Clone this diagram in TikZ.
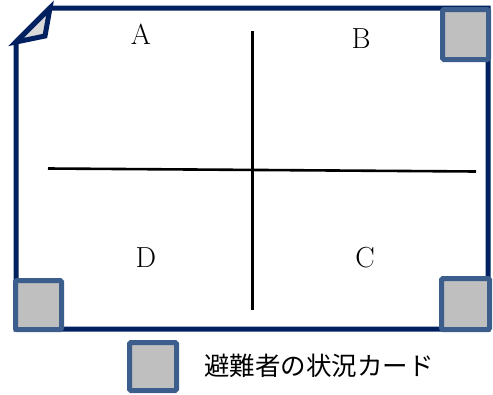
\documentclass[tikz,border=0pt]{standalone}
\usepackage{fontspec}
\newfontfamily\cjk{Noto Sans CJK JP}
\definecolor{navy}{RGB}{0,32,96}
\definecolor{cardedge}{RGB}{60,94,140}
\definecolor{cardfill}{RGB}{191,191,191}
\definecolor{foldfill}{RGB}{217,217,217}
\tikzset{
  frameline/.style={draw=navy,line width=5pt,line join=miter},
  card/.style={draw=cardedge,fill=cardfill,line width=5pt,rounded corners=1.5pt},
  crossline/.style={draw=black,line width=2.6pt},
  quad/.style={font=\fontsize{29}{29}\selectfont,inner sep=0pt}
}
\begin{document}
\begin{tikzpicture}[x=1pt,y=-1pt]
\useasboundingbox (0,0) rectangle (493,394);
% frame
\coordinate (f1) at (50,8);
\coordinate (f2) at (488,8);
\coordinate (f3) at (488,329);
\coordinate (f4) at (16,329);
\coordinate (f5) at (16,42);
\coordinate (fold) at (45,36);
\path[frameline,fill=white] (f1) -- (f2) -- (f3) -- (f4) -- (f5) -- cycle;
\path[frameline,fill=foldfill] (f1) -- (fold) -- (f5) -- cycle;
% cross
\coordinate (vt) at (252.5,31);
\coordinate (vb) at (252.5,310);
\coordinate (hl) at (48,168.5);
\coordinate (hr) at (476,171.5);
\draw[crossline] (vt) -- (vb);
\draw[crossline] (hl) -- (hr);
% labels
\node[quad] (A) at (141,34) {A};
\node[quad] (B) at (361,39) {B};
\node[quad] (D) at (146,258) {D};
\node[quad] (C) at (365,258) {C};
% cards
\draw[card] (442.5,9.5) rectangle (488.5,59.5);
\draw[card] (15.5,280.5) rectangle (61.5,329.5);
\draw[card] (441.5,278.5) rectangle (489.5,329.5);
\draw[card] (129.5,342.5) rectangle (176.5,390.5);
\node[anchor=west,inner sep=0pt,font=\cjk\fontsize{25.5}{25.5}\selectfont] (legend) at (204,366) {避難者の状況カード};
\end{tikzpicture}
\end{document}
